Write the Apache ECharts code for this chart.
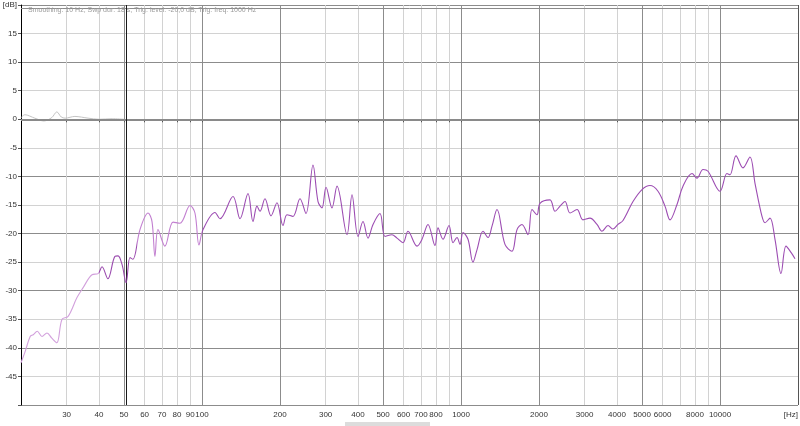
<!DOCTYPE html>
<html>
<head>
<meta charset="utf-8">
<script src="https://cdn.jsdelivr.net/npm/echarts@6/dist/echarts.min.js"></script>
<style>
  html, body { margin: 0; padding: 0; background: #fff; }
  #chart { width: 800px; height: 426px; }
</style>
</head>
<body>
<div id="chart"></div>
<script>
// frequency response (Hz, dB)
const freqs = [
  20.0, 20.7, 21.7, 22.3, 23.1, 24.1, 25.2, 26.3, 27.5, 28.8, 30.4, 32.9, 34.7, 37.6, 39.7,
  41.1, 43.3, 46.1, 47.4, 49.1, 50.9, 52.7, 54.1, 57.6, 61.9, 64.1, 65.8, 67.6, 71.9, 77.3,
  82.2, 89.9, 93.9, 97.3, 100.9, 112.2, 117.3, 131.7, 140.2, 150.5, 157.3, 163.0, 167.4, 175.0,
  184.6, 194.7, 205.4, 212.8, 224.5, 238.9, 252.0, 268.2, 280.4, 290.5, 301.1, 317.5, 332.0,
  362.9, 379.4, 400.2, 418.4, 437.4, 457.3, 486.5, 508.7, 541.3, 566.0, 597.0, 624.1, 676.1,
  706.8, 745.5, 793.3, 814.8, 851.8, 898.6, 931.2, 964.9, 991.0, 1018, 1064, 1112, 1153, 1216,
  1271, 1317, 1377, 1478, 1573, 1645, 1719, 1814, 1879, 1965, 2018, 2205, 2306, 2411, 2520,
  2635, 2804, 2957, 3147, 3349, 3501, 3694, 3861, 4037, 4221, 4613, 4997, 5365, 5761, 6130,
  6410, 6822, 7193, 7795, 8148, 8596, 8986, 9998, 10638, 10926, 11526, 12266, 13052, 13646,
  14522, 14916, 15594, 16300, 17194, 17974, 18794, 19474
];
const levels = [
  -42.6, -40.8, -38.0, -37.7, -37.1, -38.0, -37.4, -38.3, -39.1, -35.0, -34.5, -31.2, -29.5, -27.2, -27.0,
  -25.8, -27.9, -24.0, -23.9, -25.4, -28.6, -24.2, -24.5, -19.3, -16.4, -17.9, -24.0, -19.3, -22.2, -18.0,
  -18.2, -15.1, -16.4, -22.0, -19.3, -16.3, -17.4, -13.5, -17.4, -13.0, -17.9, -15.2, -16.1, -13.9,
  -16.9, -14.6, -18.6, -16.7, -17.0, -13.9, -16.5, -8.0, -14.4, -15.5, -11.9, -15.5, -11.7,
  -20.2, -13.2, -20.5, -17.9, -20.8, -18.4, -16.5, -20.5, -20.2, -20.8, -21.6, -19.6, -22.2,
  -21.0, -18.4, -22.1, -19.0, -21.0, -18.6, -21.6, -20.7, -21.9, -19.8, -21.0, -25.0, -22.8, -19.6,
  -20.7, -18.7, -15.8, -21.9, -23.1, -19.3, -18.4, -20.2, -15.8, -16.7, -14.7, -14.1, -16.1, -15.2, -14.4,
  -16.4, -15.8, -17.6, -17.3, -18.4, -19.6, -18.6, -19.2, -18.4, -17.7, -14.4, -12.3, -11.6, -12.6, -15.2,
  -17.6, -14.9, -11.7, -9.5, -10.3, -8.8, -9.1, -12.6, -9.5, -9.7, -6.4, -8.5, -6.6, -11.2,
  -17.0, -18.1, -17.3, -21.0, -27.0, -22.2, -23.3, -24.4
];
// faint second trace near 0 dB at the low end
const refFreqs = [20, 20.7, 22.6, 24.5, 26.3, 27.5, 28.6, 29.6, 32.3, 36.3, 40, 45, 50];
const refLevels = [0.3, 0.8, 0.2, -0.3, 0.3, 1.3, 0.4, 0.2, 0.5, 0.2, 0, 0.1, 0];

const tickFreqs = [30, 40, 50, 60, 70, 80, 90, 100, 200, 300, 400, 500, 600, 700, 800, 900,
  1000, 2000, 3000, 4000, 5000, 6000, 7000, 8000, 9000, 10000, 20000];
const labelFreqs = [30, 40, 50, 60, 70, 80, 90, 100, 200, 300, 400, 500, 600, 700, 800,
  1000, 2000, 3000, 4000, 5000, 6000, 8000, 10000, 20000];
const majorFreqs = [50, 100, 200, 500, 1000, 2000, 5000, 10000];
const infoText = 'Smoothing: 10 Hz, Swp dur: 18 s, Trig. level: -20,0 dB, Trig. freq: 1000 Hz';

const chart = echarts.init(document.getElementById('chart'));

const pairs = (xs, ys) => xs.map((f, i) => [f, ys[i]]);
const font = 'Liberation Sans Narrow, Arial Narrow, sans-serif';

chart.setOption({
  animation: false,
  backgroundColor: '#fff',
  title: {
    text: infoText,
    left: 23,
    top: 2,
    textStyle: { fontSize: 7, fontWeight: 'normal', color: '#9a9a9a', fontFamily: font }
  },
  grid: { left: 21, right: 2, top: 5, bottom: 21, containLabel: false, outerBoundsMode: 'none' },
  visualMap: {
    show: false,
    type: 'piecewise',
    seriesIndex: 1,
    dimension: 0,
    pieces: [
      { lt: 40, color: '#d2a0dc' },
      { gte: 40, lt: 56, color: '#9a4aae' },
      { gte: 56, lt: 100, color: '#c27fd0' },
      { gte: 100, color: '#9c4cb2' }
    ]
  },
  xAxis: [{
    type: 'log',
    logBase: 10,
    min: 20,
    max: 20000,
    axisLine: { show: true, lineStyle: { color: '#000', width: 1 } },
    axisTick: { show: true, length: 3, inside: false, customValues: tickFreqs, lineStyle: { color: '#555' } },
    axisLabel: {
      customValues: labelFreqs,
      alignMaxLabel: 'right',
      fontSize: 8, color: '#333', fontFamily: font, margin: 6,
      formatter: v => (v >= 19999 ? '[Hz]' : String(Math.round(v)))
    },
    splitLine: { show: true, lineStyle: { color: '#d2d2d2', width: 1 } },
    minorTick: { show: false },
    minorSplitLine: { show: false }
  }, {
    type: 'log',
    logBase: 10,
    min: 20,
    max: 20000,
    position: 'bottom',
    axisLine: { show: false },
    axisTick: { show: false, customValues: majorFreqs },
    axisLabel: { show: false, customValues: majorFreqs },
    splitLine: { show: true, lineStyle: { color: '#8c8c8c', width: 1 } }
  }],
  yAxis: [{
    type: 'value',
    min: -50,
    max: 20,
    interval: 5,
    axisLine: { show: true, lineStyle: { color: '#000' } },
    axisTick: { show: true, length: 3, lineStyle: { color: '#555' } },
    axisLabel: {
      fontSize: 8, color: '#333', fontFamily: font, margin: 4,
      formatter: v => (v === 20 ? '[dB]' : v === -50 ? '' : String(v))
    },
    splitLine: { show: true, lineStyle: { color: '#d2d2d2' } }
  }, {
    type: 'value',
    min: -50,
    max: 20,
    interval: 10,
    position: 'left',
    axisLine: { show: false },
    axisTick: { show: false },
    axisLabel: { show: false },
    splitLine: { show: true, lineStyle: { color: '#8c8c8c' } }
  }],
  series: [{
    type: 'line',
    name: 'ref',
    data: pairs(refFreqs, refLevels),
    smooth: 0.3,
    symbol: 'none',
    lineStyle: { color: '#c4c4c4', width: 1 },
    z: 3
  }, {
    type: 'line',
    name: 'response',
    data: pairs(freqs, levels),
    smooth: 0.35,
    symbol: 'none',
    lineStyle: { width: 1.1 },
    z: 5,
    markLine: {
      silent: true,
      symbol: 'none',
      label: { show: false },
      data: [
        { yAxis: 0, lineStyle: { color: '#8a8a8a', width: 2, type: 'solid' } },
        { yAxis: 19.5, lineStyle: { color: '#8a8a8a', width: 1, type: 'solid' } },
        { xAxis: 51, lineStyle: { color: '#1a1a1a', width: 1, type: 'solid' } },
        { xAxis: 20000, lineStyle: { color: '#555', width: 1, type: 'solid' } }
      ]
    }
  }],
  graphic: [{
    type: 'rect',
    shape: { x: 345, y: 422, width: 85, height: 4 },
    style: { fill: '#dcdcdc' }
  }]
});
</script>
</body>
</html>
